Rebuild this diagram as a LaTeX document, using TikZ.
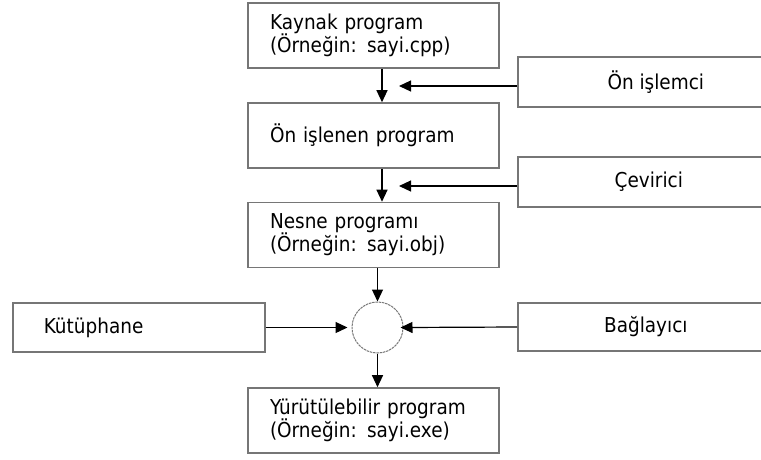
\documentclass[tikz,border=0pt]{standalone}
\usepackage{fontspec}
\setmainfont{DejaVu Sans}[FakeStretch=0.9]
\usetikzlibrary{arrows.meta}
\definecolor{boxgray}{RGB}{118,118,118}
\definecolor{ringgray}{RGB}{120,120,120}
\begin{document}
\begin{tikzpicture}[x=1pt,y=-1pt,
  every node/.style={font=\fontsize{20.5}{23}\selectfont},
  box/.style={draw=boxgray, line width=1.6pt, rectangle, inner ysep=0pt},
  stagebox/.style={box, inner xsep=22pt, text width=207pt, align=left, minimum height=65pt},
  toolbox/.style={box, anchor=west, inner xsep=0pt, minimum height=50pt},
  arr/.style={-{Triangle[length=12pt,width=11pt]}, line width=1.2pt, draw=black},
]
\useasboundingbox (0,0) rectangle (761,459);
\fill[white] (0,0) rectangle (761,459);
\clip (0,0) rectangle (761,459);

% main chain of program stages
\node[stagebox] (kaynak) at (373.5,35.5) {Kaynak program\\(Örneğin: sayi.cpp)};
\node[stagebox] (onislenen) at (373.5,135.5) {Ön işlenen program};
\node[stagebox] (nesne) at (373.5,235) {Nesne programı\\(Örneğin: sayi.obj)};
\node[stagebox] (yurut) at (373.5,420.5) {Yürütülebilir program\\(Örneğin: sayi.exe)};

% tools on the right (open towards the page edge)
\node[toolbox, minimum width=276pt] (onislemci) at (517,82) {Ön işlemci};
\node[toolbox, minimum width=262pt] (cevirici) at (517,182) {Çevirici};
\node[toolbox, minimum width=256pt, minimum height=48pt] (baglayici) at (517,327) {Bağlayıcı};

% library on the left
\node[box, anchor=west, inner xsep=31pt, text width=190pt, align=left, minimum height=49pt] (kutuphane) at (12,327.5) {Kütüphane};

% linking junction
\node[circle, draw=ringgray, line width=1pt, dash pattern=on 2.5pt off 0.8pt, minimum size=51pt, inner sep=0pt] (join) at (377.5,327.5) {};

% helper coordinates
\coordinate (flow) at (382,0);
\coordinate (tipA) at (399,86);
\coordinate (tipB) at (399,186);

% connectors
\draw[arr] (kaynak.south -| flow) -- (onislenen.north -| flow);
\draw[arr] (onislenen.south -| flow) -- (nesne.north -| flow);
\draw[arr] (onislemci.west |- tipA) -- (tipA);
\draw[arr] (cevirici.west |- tipB) -- (tipB);
\draw[arr] (nesne.south -| join) -- (join.north);
\draw[arr, shorten >=4pt] (kutuphane.east) -- (join.west);
\draw[arr, shorten >=-3pt] (baglayici.west) -- (join.east);
\draw[arr] (join.south) -- (yurut.north -| join);
\end{tikzpicture}
\end{document}
